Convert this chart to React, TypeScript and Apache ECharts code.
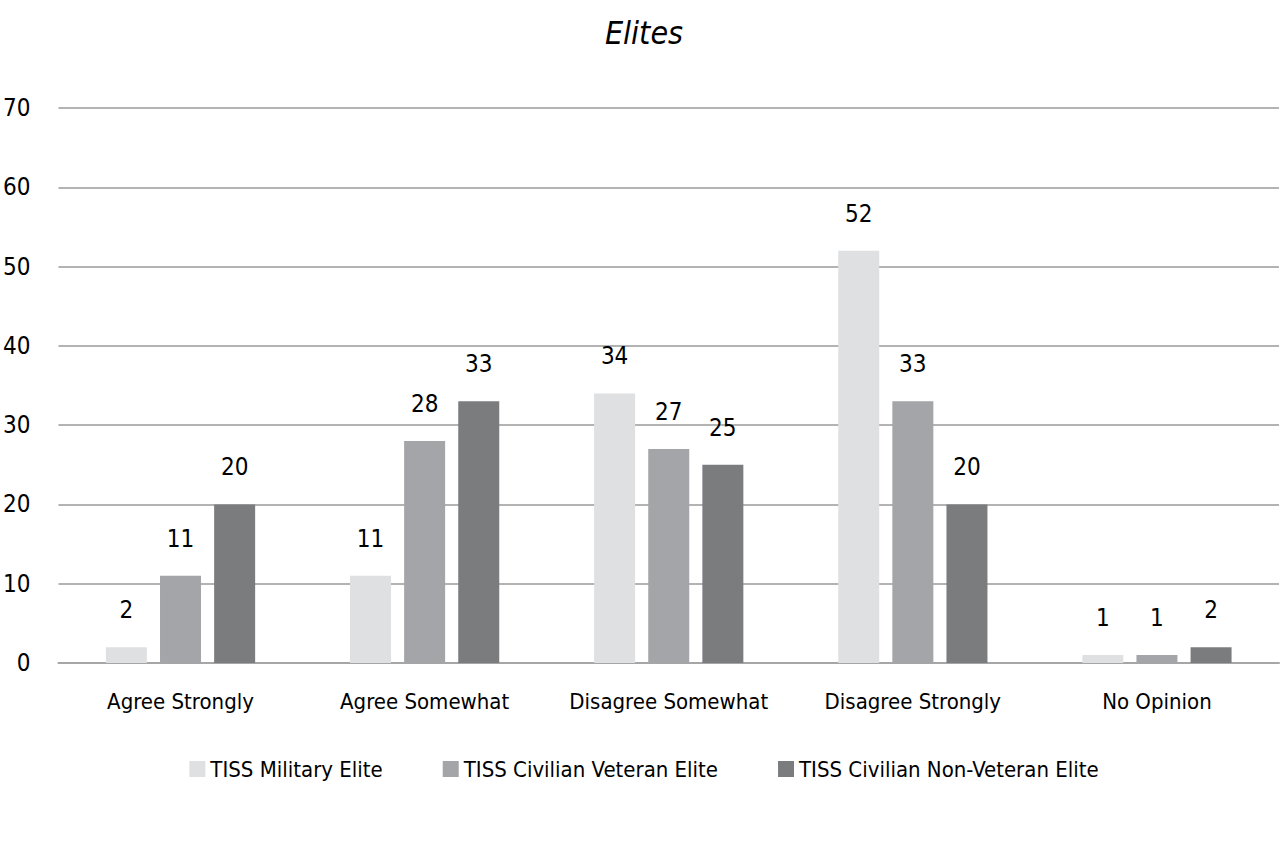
import React, { useEffect, useRef } from "react";
import * as echarts from "echarts";

const categories = ["Agree Strongly", "Agree Somewhat", "Disagree Somewhat", "Disagree Strongly", "No Opinion"];
const seriesNames = ["TISS Military Elite", "TISS Civilian Veteran Elite", "TISS Civilian Non-Veteran Elite"];
const military = [2, 11, 34, 52, 1];
const civVeteran = [11, 28, 27, 33, 1];
const civNonVeteran = [20, 33, 25, 20, 2];
const colors = ["#dfe0e2", "#a3a5a8", "#7b7c7e"];
const yTicks = { min: 0, max: 70, interval: 10 };

const FONT = "'DejaVu Sans Condensed', 'Liberation Sans Narrow', 'Roboto', sans-serif";

export default function App() {
  const ref = useRef<HTMLDivElement>(null);
  useEffect(() => {
    if (!ref.current) return;
    const chart = echarts.init(ref.current, null, { renderer: "svg" });
    const values = [military, civVeteran, civNonVeteran];
    chart.setOption({
      animation: false,
      backgroundColor: "#ffffff",
      textStyle: { fontFamily: FONT },
      title: {
        text: "Elites",
        left: "center",
        top: 12,
        textStyle: { fontFamily: FONT, fontStyle: "italic", fontWeight: "normal", fontSize: 32, color: "#000" },
      },
      grid: { left: 56, right: 9, top: 108, bottom: 196, containLabel: false },
      legend: {
        bottom: 74,
        left: "center",
        itemWidth: 16,
        itemHeight: 16,
        itemGap: 60,
        icon: "rect",
        textStyle: { fontFamily: FONT, fontSize: 22, color: "#000" },
        data: seriesNames,
      },
      xAxis: {
        type: "category",
        data: categories,
        axisTick: { show: false },
        axisLine: { show: true, lineStyle: { color: "#a6a6a6", width: 2 } },
        axisLabel: { fontFamily: FONT, fontSize: 22, color: "#000", margin: 27, interval: 0 },
      },
      yAxis: {
        type: "value",
        min: yTicks.min,
        max: yTicks.max,
        interval: yTicks.interval,
        axisLine: { show: false },
        axisTick: { show: false },
        splitLine: { lineStyle: { color: "#b3b3b3", width: 2 } },
        axisLabel: { fontFamily: FONT, fontSize: 24, color: "#000", margin: 28 },
      },
      series: seriesNames.map((name, i) => ({
        name,
        type: "bar",
        data: values[i],
        barWidth: 41,
        barGap: "32%",
        itemStyle: { color: colors[i] },
        label: {
          show: true,
          position: "top",
          distance: 25,
          fontFamily: FONT,
          fontSize: 24,
          color: "#000",
        },
      })),
    });
    return () => chart.dispose();
  }, []);
  return <div ref={ref} style={{ position: "fixed", left: 0, top: 0, width: 1288, height: 859, background: "#fff" }} />;
}
